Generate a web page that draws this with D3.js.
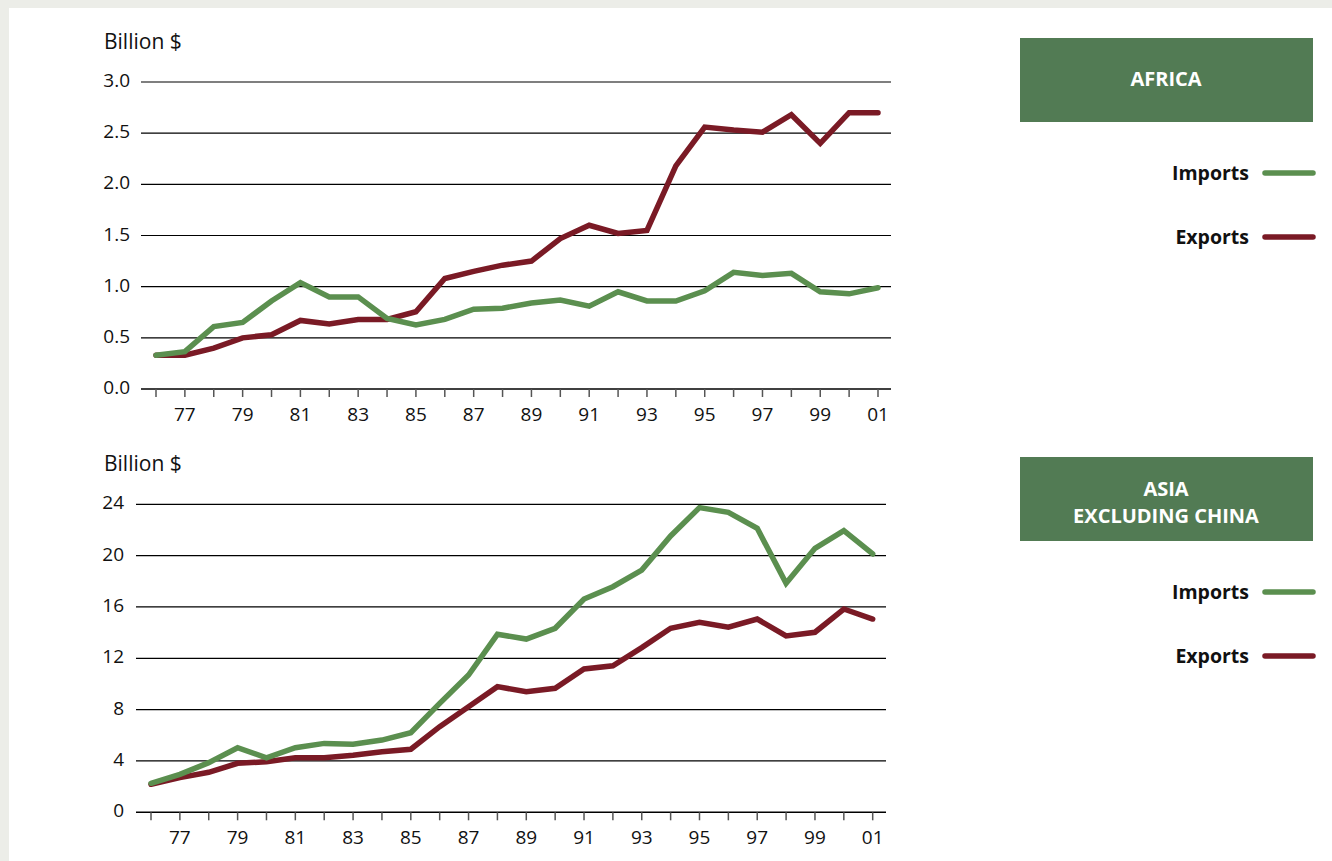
<!DOCTYPE html>
<html><head><meta charset="utf-8">
<script src="https://cdn.jsdelivr.net/npm/d3@7"></script>
<style>
html,body{margin:0;padding:0;background:#ecede8;}
svg{display:block;}
text{font-family:"Open Sans","Noto Sans",sans-serif;}
</style></head>
<body>
<svg id="c" width="1332" height="861"></svg>
<script>
const years = d3.range(1976, 2002);
const tickLabels = ["77","79","81","83","85","87","89","91","93","95","97","99","01"];
const africaImports = [0.33,0.365,0.61,0.65,0.86,1.04,0.90,0.90,0.69,0.625,0.68,0.78,0.79,0.84,0.87,0.81,0.95,0.86,0.86,0.96,1.14,1.11,1.13,0.95,0.93,0.99];
const africaExports = [0.33,0.33,0.40,0.50,0.53,0.67,0.635,0.68,0.68,0.755,1.08,1.15,1.21,1.25,1.47,1.60,1.52,1.55,2.18,2.56,2.53,2.51,2.68,2.40,2.70,2.70];
const asiaImports = [2.26,2.96,3.87,5.03,4.25,5.03,5.37,5.30,5.63,6.20,8.49,10.70,13.87,13.5,14.34,16.62,17.58,18.88,21.53,23.74,23.37,22.13,17.84,20.57,21.95,20.13];
const asiaExports = [2.18,2.70,3.12,3.82,3.94,4.25,4.25,4.44,4.72,4.91,6.67,8.23,9.79,9.40,9.66,11.17,11.42,12.83,14.34,14.80,14.42,15.06,13.74,14.03,15.84,15.06];
const africaTicks = [0,0.5,1.0,1.5,2.0,2.5,3.0];
const asiaTicks = [0,4,8,12,16,20,24];
const seriesNames = ["Imports","Exports"];
const colors = {Imports:"#5b8f4f", Exports:"#7a1a25"};

const svg = d3.select("#c");
svg.append("rect").attr("x",9).attr("y",8).attr("width",1332-9).attr("height",861-8).attr("fill","#ffffff");

function panel(cfg){
  const g = svg.append("g");
  const x = d3.scaleLinear().domain([1976,2001]).range([cfg.x0, cfg.x1]);
  const y = d3.scaleLinear().domain([cfg.ticks[0], cfg.ticks[cfg.ticks.length-1]]).range([cfg.yb, cfg.yt]);
  g.selectAll("line.grid").data(cfg.ticks).enter().append("line")
    .attr("x1",cfg.gx0).attr("x2",cfg.gx1)
    .attr("y1",d=>y(d)).attr("y2",d=>y(d))
    .attr("stroke","#000").attr("stroke-width",d=>d===0?1.6:1.2);
  g.selectAll("text.yl").data(cfg.ticks).enter().append("text")
    .attr("x",cfg.ylx).attr("y",d=>y(d)+5)
    .attr("text-anchor","end").attr("font-size",19).attr("fill","#111")
    .text(d=>cfg.fmt(d));
  g.selectAll("line.xt").data(years).enter().append("line")
    .attr("x1",d=>x(d)).attr("x2",d=>x(d))
    .attr("y1",y(0)).attr("y2",y(0)+8)
    .attr("stroke","#555").attr("stroke-width",1.5);
  const labYears = years.filter(v=>v%2===1);
  g.selectAll("text.xl").data(labYears).enter().append("text")
    .attr("x",d=>x(d)).attr("y",y(0)+32)
    .attr("text-anchor","middle").attr("font-size",19).attr("fill","#111")
    .text((d,i)=>tickLabels[i]);
  g.append("text").attr("x",104).attr("y",cfg.titleY).attr("font-size",21).attr("fill","#111").text("Billion $");
  const line = d3.line().x((d,i)=>x(years[i])).y(d=>y(d));
  [["Exports",cfg.exp],["Imports",cfg.imp]].forEach(([n,arr])=>{
    g.append("path").datum(arr).attr("d",line).attr("fill","none")
      .attr("stroke",colors[n]).attr("stroke-width",5.5).attr("stroke-linejoin","miter").attr("stroke-linecap","round");
  });
  g.append("rect").attr("x",1020).attr("y",cfg.boxY).attr("width",293).attr("height",84).attr("fill","#527b54");
  cfg.boxLines.forEach((t,i)=>{
    g.append("text").attr("x",1166).attr("y",cfg.boxY+cfg.boxBase[i])
      .attr("text-anchor","middle").attr("font-size",20).attr("font-weight","bold").attr("fill","#fff").text(t);
  });
  seriesNames.forEach((n,i)=>{
    const ly = cfg.boxY+135+i*64;
    g.append("text").attr("x",1249).attr("y",ly+7).attr("text-anchor","end")
      .attr("font-size",19.5).attr("font-weight","bold").attr("fill","#111").text(n);
    g.append("line").attr("x1",1265).attr("x2",1313).attr("y1",ly).attr("y2",ly)
      .attr("stroke",colors[n]).attr("stroke-width",5.5).attr("stroke-linecap","round");
  });
}

panel({x0:156,x1:878,gx0:141,gx1:891,yb:389,yt:82,ylx:130,ticks:africaTicks,fmt:d3.format(".1f"),
  imp:africaImports,exp:africaExports,titleY:49,boxY:38,boxLines:["AFRICA"],boxBase:[48]});
panel({x0:151,x1:872.7,gx0:136,gx1:886,yb:812.3,yt:504.3,ylx:124,ticks:asiaTicks,fmt:d3.format("d"),
  imp:asiaImports,exp:asiaExports,titleY:471,boxY:457,boxLines:["ASIA","EXCLUDING CHINA"],boxBase:[39,65.7]});
</script>
</body></html>
